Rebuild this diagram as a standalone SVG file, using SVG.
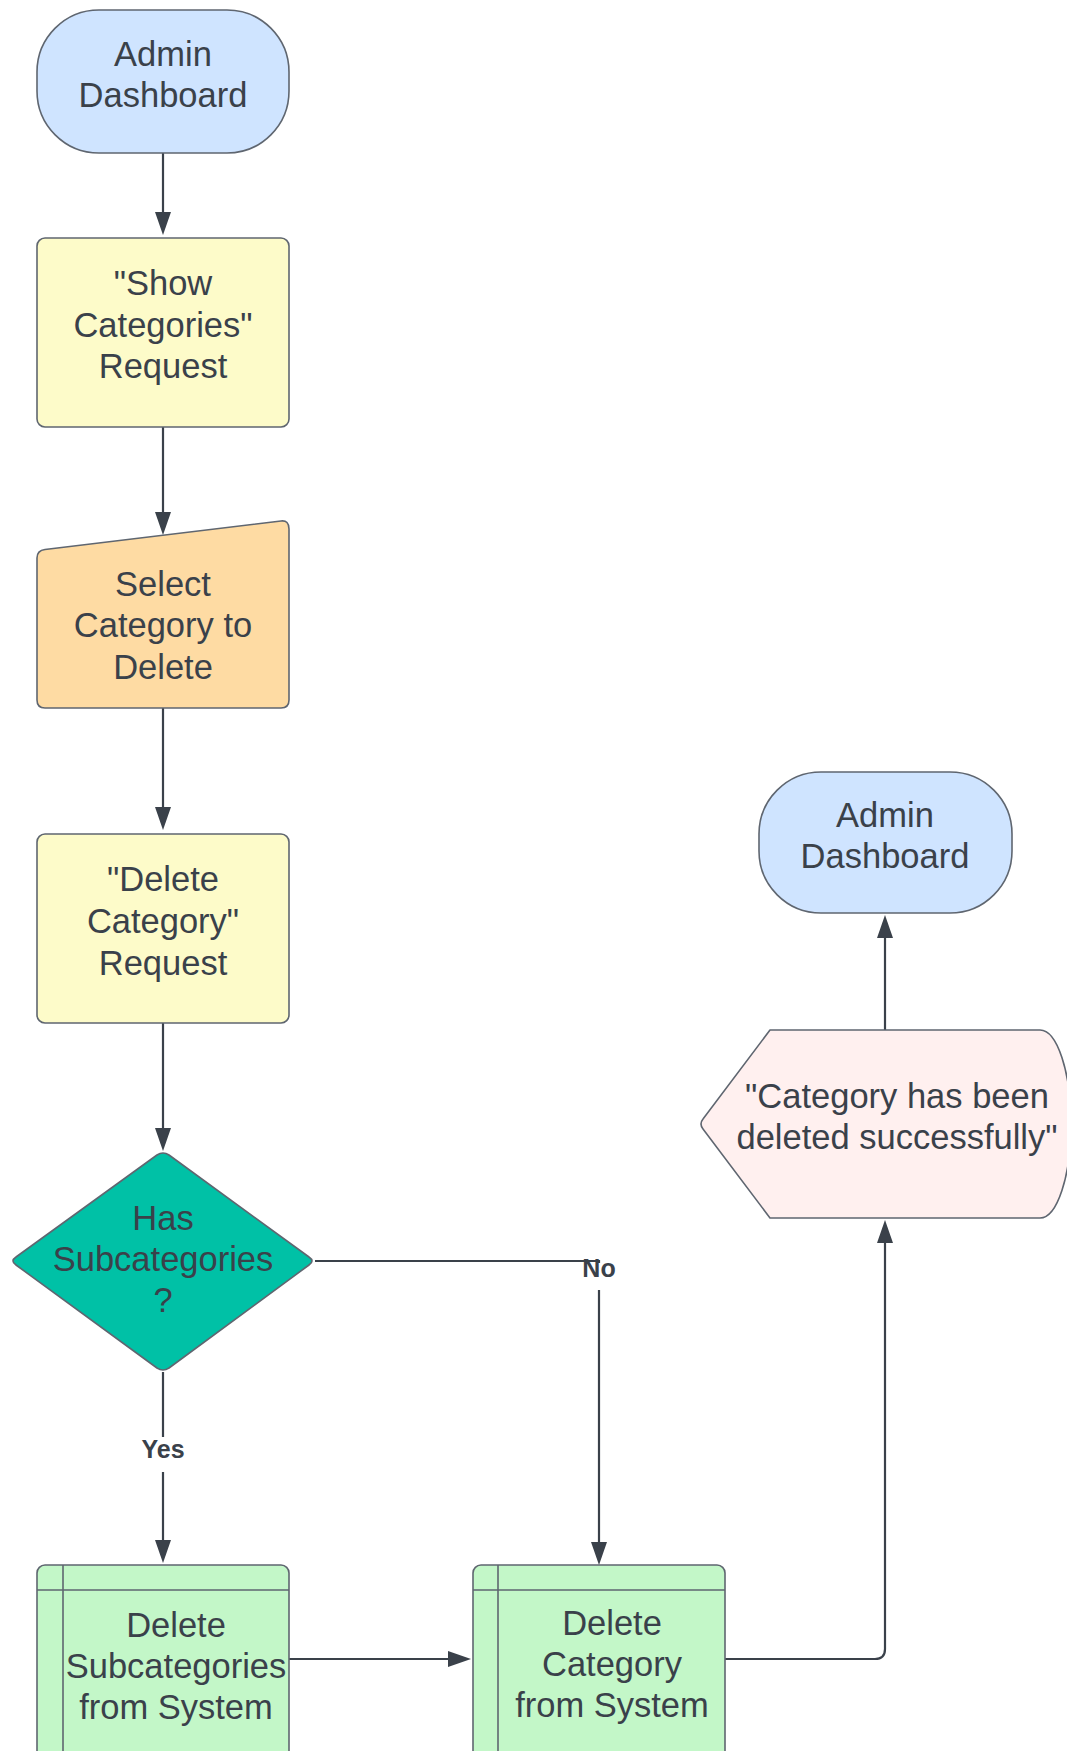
<svg xmlns="http://www.w3.org/2000/svg" width="1067" height="1751" viewBox="0 0 1067 1751">
<style>
.shape{stroke:#5f6670;stroke-width:1.6;stroke-linejoin:round}
.t{font-family:"Liberation Sans",Arial,sans-serif;font-size:34.5px;fill:#3a414a;text-anchor:middle}
.lbl{font-family:"Liberation Sans",Arial,sans-serif;font-size:25px;font-weight:bold;fill:#3a414a;text-anchor:middle}
.c{fill:none;stroke:#3a414a;stroke-width:2.2}
.term{fill:#cfe4ff}
.proc{fill:#fdfbc9}
.inp{fill:#fedba3}
.dec{fill:#00c1a6}
.pre{fill:#c3f7c8}
.disp{fill:#fff0ef}
</style>
<defs>
<marker id="ah" viewBox="0 0 23 16" refX="13" refY="8" markerWidth="23" markerHeight="16" markerUnits="userSpaceOnUse" orient="auto">
<path d="M0,0 L23,8 L0,16 z" fill="#3a414a"/>
</marker>
</defs>
<rect width="1067" height="1751" fill="#ffffff"/>
<g id="connectors">
<path class="c" d="M163,153 V225" marker-end="url(#ah)"/>
<path class="c" d="M163,427 V525" marker-end="url(#ah)"/>
<path class="c" d="M163,708 V820" marker-end="url(#ah)"/>
<path class="c" d="M163,1023 V1141" marker-end="url(#ah)"/>
<path class="c" d="M163,1372 V1553" marker-end="url(#ah)"/>
<path class="c" d="M315,1261 H599 V1555" marker-end="url(#ah)"/>
<path class="c" d="M289,1659 H461" marker-end="url(#ah)"/>
<path class="c" d="M725,1659 H875 Q885,1659 885,1649 V1230" marker-end="url(#ah)"/>
<path class="c" d="M885,1030 V925" marker-end="url(#ah)"/>
<rect x="138" y="1437" width="50" height="35" fill="#ffffff"/>
<text class="lbl" x="163" y="1458">Yes</text>
<rect x="582" y="1263" width="38" height="27" fill="#ffffff"/>
<text class="lbl" x="599" y="1277">No</text>
</g>
<g id="admin-dashboard-1">
<rect class="shape term" x="37" y="10" width="252" height="143" rx="62" ry="62"/>
<text class="t" x="163" y="66">Admin</text>
<text class="t" x="163" y="107">Dashboard</text>
</g>
<g id="show-categories">
<rect class="shape proc" x="37" y="238" width="252" height="189" rx="8"/>
<text class="t" x="163" y="295">"Show</text>
<text class="t" x="163" y="337">Categories"</text>
<text class="t" x="163" y="378">Request</text>
</g>
<g id="select-category">
<path class="shape inp" d="M45,549.5 L281,521 Q289,520 289,529 V700 Q289,708 281,708 H45 Q37,708 37,700 V558 Q37,550.5 45,549.5 z"/>
<text class="t" x="163" y="596">Select</text>
<text class="t" x="163" y="637">Category to</text>
<text class="t" x="163" y="679">Delete</text>
</g>
<g id="delete-category-request">
<rect class="shape proc" x="37" y="834" width="252" height="189" rx="8"/>
<text class="t" x="163" y="891">"Delete</text>
<text class="t" x="163" y="933">Category"</text>
<text class="t" x="163" y="975">Request</text>
</g>
<g id="has-subcategories">
<path class="shape dec" d="M157,1155 Q163,1151 169,1155 L309,1257 Q315,1261 309,1265 L169,1368 Q163,1372 157,1368 L16,1265 Q10,1261 16,1257 z"/>
<text class="t" x="163" y="1230">Has</text>
<text class="t" x="163" y="1271">Subcategories</text>
<text class="t" x="163" y="1312">?</text>
</g>
<g id="delete-subcategories">
<rect class="shape pre" x="37" y="1565" width="252" height="210" rx="8"/>
<path class="shape" fill="none" d="M63,1565 V1775 M37,1590 H289"/>
<text class="t" x="176" y="1637">Delete</text>
<text class="t" x="176" y="1678">Subcategories</text>
<text class="t" x="176" y="1719">from System</text>
</g>
<g id="delete-category">
<rect class="shape pre" x="473" y="1565" width="252" height="210" rx="8"/>
<path class="shape" fill="none" d="M498,1565 V1775 M473,1590 H725"/>
<text class="t" x="612" y="1635">Delete</text>
<text class="t" x="612" y="1676">Category</text>
<text class="t" x="612" y="1717">from System</text>
</g>
<g id="success-message">
<path class="shape disp" d="M770,1030 H1040 A31,94 0 0 1 1040,1218 H770 L703,1129 Q699,1124 703,1119 z"/>
<text class="t" x="897" y="1108">"Category has been</text>
<text class="t" x="897" y="1149">deleted successfully"</text>
</g>
<g id="admin-dashboard-2">
<rect class="shape term" x="759" y="772" width="253" height="141" rx="62" ry="62"/>
<text class="t" x="885" y="827">Admin</text>
<text class="t" x="885" y="868">Dashboard</text>
</g>
</svg>
